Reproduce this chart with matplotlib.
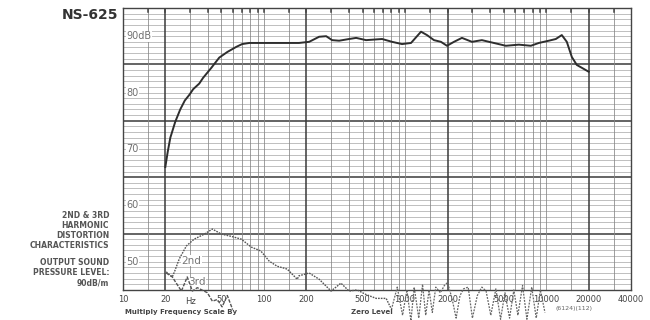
import numpy as np
import matplotlib.pyplot as plt
from matplotlib.transforms import blended_transform_factory

# Frequency response (Hz, dB)
resp_freq = [20, 20.8, 21.7, 23.5, 25.5, 27.5, 29.6, 31.5, 34.8, 37.0, 42.4, 48.2, 55.0,
             63.6, 70.0, 78.6, 100, 140, 177, 209, 246, 276, 304, 341, 401, 450, 529,
             687, 809, 951, 1102, 1297, 1429, 1603, 1795, 1982, 2220, 2529, 2978,
             3502, 4259, 5177, 6400, 7786, 8870, 10440, 11700, 12900, 14000, 15200,
             16480, 17870, 20000]
resp_db = [66.8, 69.5, 72.0, 74.8, 77.0, 78.6, 79.6, 80.6, 81.6, 82.6, 84.4, 86.2, 87.2,
           88.1, 88.6, 88.8, 88.8, 88.8, 88.8, 89.0, 89.9, 90.0, 89.3, 89.2, 89.5, 89.7, 89.3,
           89.5, 89.0, 88.6, 88.8, 90.8, 90.2, 89.3, 89.0, 88.3, 89.0, 89.7, 89.0,
           89.3, 88.8, 88.3, 88.5, 88.3, 88.8, 89.2, 89.5, 90.2, 89.0, 86.3,
           84.9, 84.4, 83.7]

# 2nd harmonic distortion
h2_freq = [20.3, 22.4, 23.2, 25.1, 28.2, 32.0, 37.8, 43.1, 49.9, 58.6, 69.1, 81.3,
           95.0, 109, 124, 146, 172, 177, 209, 246, 299, 351, 401, 457, 527, 624, 734, 796]
h2_db = [48.2, 47.3, 48.2, 50.5, 52.8, 54.0, 54.9, 55.8, 54.9, 54.5, 54.0, 52.6,
         51.9, 50.1, 49.2, 48.7, 46.9, 47.5, 48.0, 46.9, 44.8, 46.2, 44.8, 45.0, 44.2,
         43.5, 43.5, 41.7]

# 3rd harmonic distortion
h3_freq = [20.3, 22.4, 26.0, 28.6, 31.1, 33.7, 39.7, 43.1, 46.7, 50.5, 55.0, 60.0]
h3_db = [48.0, 47.3, 44.8, 47.3, 44.8, 45.4, 44.5, 43.0, 43.3, 42.0, 44.0, 41.5]

# high frequency distortion wiggles below zero level
hf_freq = [800, 880, 960, 1030, 1100, 1160, 1250, 1330, 1400, 1480, 1560, 1650, 1780,
           1900, 2000, 2150, 2300, 2450, 2600, 2800, 3000, 3250, 3500, 3750, 4050,
           4400, 4750, 5100, 5500, 5900, 6300, 6800, 7300, 7900, 8500, 9100, 9800]
hf_db = [41.5, 45.5, 40.5, 45.0, 39.5, 45.5, 40.0, 46.0, 40.5, 45.0, 41.0, 45.5, 44.5,
         45.8, 46.3, 43.5, 40.0, 44.0, 45.2, 45.5, 40.0, 44.0, 45.5, 44.8, 40.5,
         45.2, 39.8, 44.5, 40.0, 45.0, 40.5, 45.8, 39.8, 45.5, 40.0, 45.0, 41.0]

x_ticks = [10, 20, 50, 100, 200, 500, 1000, 2000, 5000, 10000, 20000, 40000]
y_labels = {90: '90dB', 80: '80', 70: '70', 60: '60', 50: '50'}

fig = plt.figure(figsize=(6.5, 3.2), dpi=100)
ax = fig.add_axes([0.189, 0.094, 0.782, 0.881])
ax.set_xscale('log')
ax.set_xlim(10, 40000)
ax.set_ylim(45, 95)

# chart paper grid
for d in range(46, 95):
    heavy = (d % 10 == 5)
    ax.axhline(d, color='#3a3a3a' if heavy else '#a5a5a5',
               lw=1.1 if heavy else 0.5, zorder=1)
vlines = []
for dec in [10, 100, 1000, 10000]:
    for m in [1, 1.5, 2, 3, 4, 5, 6, 7, 8, 9]:
        v = dec * m
        if 10 < v < 40000:
            vlines.append(v)
for v in vlines:
    heavy = v in (20, 200, 2000, 20000)
    ax.axvline(v, color='#3a3a3a' if heavy else '#858585',
               lw=1.1 if heavy else 0.55, zorder=1)
    ax.plot([v, v], [94.3, 95], color='#444444', lw=1.1, zorder=2)

for s in ax.spines.values():
    s.set_color('#444444')
    s.set_linewidth(1.0)

ax.plot(resp_freq, resp_db, color='#2e2e2e', lw=1.4, zorder=4)
ax.plot(h2_freq, h2_db, color='#555555', lw=1.0, ls=(0, (1.2, 0.8)), zorder=4, clip_on=False)
ax.plot(h3_freq, h3_db, color='#555555', lw=1.0, ls=(0, (2.5, 1.0)), zorder=4, clip_on=False)
ax.plot(hf_freq, hf_db, color='#666666', lw=0.9, ls=(0, (1.5, 1.0)), zorder=4, clip_on=False)

for val, lab in y_labels.items():
    ax.text(10.6, val, lab, fontsize=7, color='#707070', va='center', ha='left',
            bbox=dict(facecolor='white', edgecolor='none', pad=0.3), zorder=3)

ax.text(26, 50.2, '2nd', fontsize=7.5, color='#777777', va='center',
        bbox=dict(facecolor='white', edgecolor='none', pad=0.2), zorder=3)
ax.text(29, 46.4, '3rd', fontsize=7.5, color='#777777', va='center',
        bbox=dict(facecolor='white', edgecolor='none', pad=0.2), zorder=3)

ax.set_xticks(x_ticks)
ax.set_xticklabels([str(t) for t in x_ticks], fontsize=6, color='#444444')
ax.set_xticks([], minor=True)
ax.tick_params(axis='x', length=0, pad=4)
ax.set_yticks([])
trans = blended_transform_factory(ax.transData, ax.transAxes)
ax.text(30, -0.024, 'Hz', transform=trans, fontsize=6, color='#444444',
        ha='center', va='top')

fig.text(0.182, 0.953, 'NS-625', fontsize=10, fontweight='bold', color='#333333',
         ha='right', va='center')
left_lines = ['2ND & 3RD', 'HARMONIC', 'DISTORTION', 'CHARACTERISTICS']
for i, t in enumerate(left_lines):
    fig.text(0.168, 0.328 - i * 0.032, t, fontsize=5.5, fontweight='bold',
             color='#555555', ha='right', va='center')
for i, t in enumerate(['OUTPUT SOUND', 'PRESSURE LEVEL:', '90dB/m']):
    fig.text(0.168, 0.181 - i * 0.032, t, fontsize=5.5, fontweight='bold',
             color='#555555', ha='right', va='center')

fig.text(0.192, 0.025, 'Multiply Frequency Scale By', fontsize=5, fontweight='bold',
         color='#444444', ha='left', va='center')
fig.text(0.540, 0.025, 'Zero Level', fontsize=5, fontweight='bold',
         color='#444444', ha='left', va='center')
fig.text(0.855, 0.035, '(6124)(112)', fontsize=4.5, color='#666666', ha='left', va='center')

fig.savefig('out.png', dpi=100)
